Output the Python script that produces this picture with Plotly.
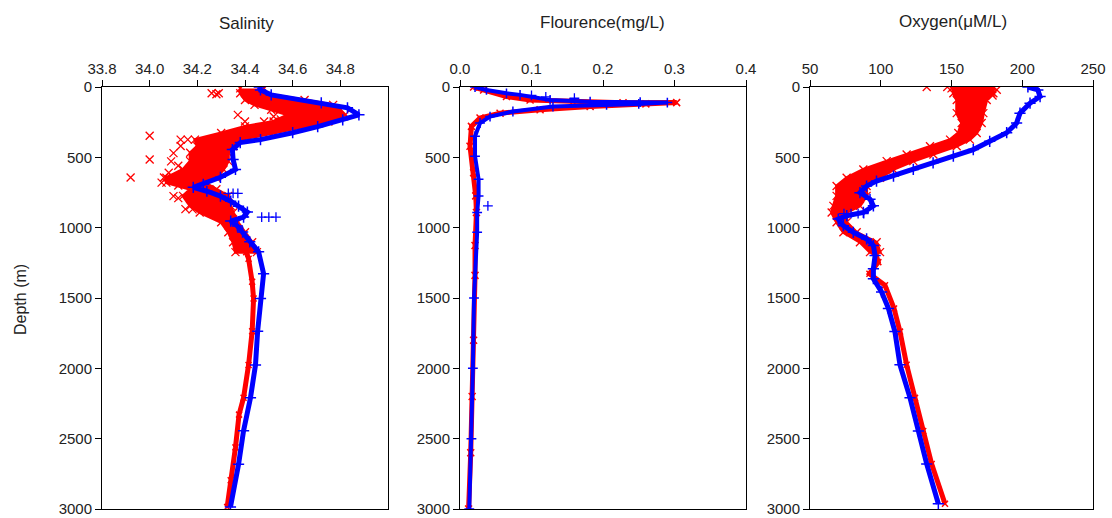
import plotly.graph_objects as go

# ---------------- DATA ----------------
# Salinity panel
sal_blue_depth = [0, 21, 56, 113, 148, 198, 233, 282, 325, 374, 395, 445, 515, 586, 642, 692, 713, 741,
                  776, 812, 847, 889, 925, 953, 988, 1031, 1101, 1172, 1327, 1504, 1737, 1976, 2209,
                  2443, 2682, 2986]
sal_blue_value = [34.46, 34.465, 34.51, 34.72, 34.83, 34.878, 34.81, 34.705, 34.60, 34.465, 34.38, 34.347,
                  34.35, 34.36, 34.297, 34.225, 34.183, 34.24, 34.297, 34.34, 34.373, 34.41, 34.394,
                  34.34, 34.368, 34.39, 34.42, 34.457, 34.478, 34.465, 34.453, 34.444, 34.423, 34.394,
                  34.373, 34.339]
sal_blue_out_depth = [756, 756, 756, 925, 925, 925]
sal_blue_out_value = [34.33, 34.35, 34.37, 34.47, 34.50, 34.53]

sal_red_band_depth = [10, 45, 92, 127, 162, 198, 245, 280, 327, 374, 421, 468, 527, 586, 645, 680, 727,
                      774, 845, 892, 962, 1033, 1104, 1174]
sal_red_band_left = [34.38, 34.38, 34.40, 34.44, 34.51, 34.58, 34.52, 34.40, 34.30, 34.19, 34.20, 34.17,
                     34.17, 34.14, 34.07, 34.07, 34.17, 34.14, 34.17, 34.21, 34.30, 34.33, 34.35, 34.36]
sal_red_band_right = [34.48, 34.47, 34.65, 34.77, 34.80, 34.82, 34.75, 34.66, 34.52, 34.38, 34.35, 34.33,
                      34.33, 34.31, 34.28, 34.23, 34.28, 34.33, 34.34, 34.35, 34.37, 34.40, 34.43, 34.45]
sal_red_deep_depth = [1174, 1221, 1384, 1504, 1737, 1976, 2209, 2329, 2562, 2796, 2986]
sal_red_deep_value = [34.405, 34.415, 34.43, 34.436, 34.43, 34.415, 34.394, 34.375, 34.36, 34.34, 34.325]
sal_red_out_depth = [45, 45, 52, 198, 245, 245, 346, 374, 374, 515, 529, 560, 610, 643, 643, 680, 700,
                     776, 790, 868, 870, 110, 150, 210, 230, 420, 470]
sal_red_out_value = [34.26, 34.29, 34.28, 34.37, 34.40, 34.48, 34.00, 34.13, 34.16, 34.00, 34.09, 34.12,
                     34.08, 34.06, 33.92, 34.05, 34.12, 34.10, 34.12, 34.15, 34.18, 34.60, 34.65, 34.52,
                     34.55, 34.13, 34.10]

# Flourence panel
flu_blue_depth = [0, 21, 45, 56, 92, 104, 108, 111, 120, 127, 139, 174, 210, 256, 350, 492, 656, 774, 892,
                  1033, 1500, 2000, 2500, 3000]
flu_blue_value = [0.021, 0.037, 0.065, 0.084, 0.126, 0.182, 0.252, 0.29, 0.25, 0.205, 0.13, 0.074, 0.042,
                  0.028, 0.021, 0.021, 0.026, 0.026, 0.024, 0.024, 0.0196, 0.018, 0.016, 0.013]
flu_blue_out_depth = [845, 60, 70, 80]
flu_blue_out_value = [0.039, 0.10, 0.12, 0.16]

flu_red_depth = [0, 21, 68, 92, 105, 112, 111, 120, 139, 162, 186, 221, 280, 421, 610, 774, 892, 1127,
                 1339, 1800, 2200, 2600, 3000]
flu_red_value = [0.019, 0.033, 0.065, 0.098, 0.158, 0.228, 0.303, 0.26, 0.182, 0.112, 0.056, 0.028, 0.016,
                 0.014, 0.019, 0.022, 0.023, 0.021, 0.021, 0.019, 0.017, 0.015, 0.012]

# Oxygen panel
oxy_blue_depth = [0, 21, 68, 115, 186, 256, 325, 386, 445, 492, 539, 586, 633, 669, 704, 751, 798, 845,
                  892, 915, 939, 986, 1033, 1080, 1127, 1198, 1292, 1363, 1457, 1574, 1739, 1975, 2210,
                  2445, 2680, 2963]
oxy_blue_value = [204, 211, 212.6, 205.5, 198.4, 196, 189, 177, 165.4, 151.3, 137, 123, 109, 97, 90, 85.3,
                  92.4, 94.8, 87.7, 76, 70, 73.6, 80.6, 90, 94.8, 96, 94.8, 94.8, 100.6, 105.4, 110,
                  113.6, 120.7, 126.6, 132.5, 140.7]
oxy_blue_out_depth = [900, 900, 900, 900]
oxy_blue_out_value = [74, 79, 84, 88]

oxy_red_band_depth = [0, 45, 92, 186, 256, 327, 374, 421, 480, 527, 586, 645, 704, 774, 845, 892, 962,
                      1033, 1104, 1174]
oxy_red_band_left = [151.3, 151.3, 153.7, 153.7, 157.2, 154.8, 149, 134.8, 118.3, 104.2, 87.7, 75.9, 68.8,
                     68.8, 66.5, 65.3, 68.8, 73.6, 85.3, 92.4]
oxy_red_band_right = [179.6, 179.6, 174.9, 172.5, 171.3, 167.8, 163, 153.7, 137.2, 123, 108.9, 99.5, 90,
                      90, 85.3, 75.9, 75.9, 83, 97.1, 99.5]
oxy_red_deep_depth = [1174, 1245, 1327, 1410, 1574, 1739, 1975, 2210, 2445, 2680, 2963]
oxy_red_deep_value = [96, 98.3, 92, 103, 109.4, 113.6, 118.3, 124.2, 130, 136, 145.4]
oxy_red_out_depth = [0, 0, 10, 40, 60, 5, 20]
oxy_red_out_value = [132.5, 147, 150, 178, 179, 172, 182]

# Axis ticks and titles
depth_ticks = [0, 500, 1000, 1500, 2000, 2500, 3000]
sal_ticks = [33.8, 34.0, 34.2, 34.4, 34.6, 34.8]
sal_ticktext = ["33.8", "34.0", "34.2", "34.4", "34.6", "34.8"]
flu_ticks = [0.0, 0.1, 0.2, 0.3, 0.4]
flu_ticktext = ["0.0", "0.1", "0.2", "0.3", "0.4"]
oxy_ticks = [50, 100, 150, 200, 250]
oxy_ticktext = ["50", "100", "150", "200", "250"]
panel_titles = ["Salinity", "Flourence(mg/L)", "Oxygen(\u03bcM/L)"]
y_title = "Depth (m)"

# ---------------- FIGURE ----------------
RED = "#ff0000"
BLUE = "#0000ff"
FONT = "Liberation Sans, Arial, sans-serif"
TXT = "#222222"

fig = go.Figure()


def add_line(xa, ya, xs, ys, color, symbol, width, msize):
    fig.add_trace(go.Scatter(
        x=xs, y=ys, mode="lines+markers", xaxis=xa, yaxis=ya,
        line=dict(color=color, width=width),
        marker=dict(symbol=symbol, size=msize, color=color, line=dict(color=color, width=1.5)),
        showlegend=False, hoverinfo="skip"))


def add_points(xa, ya, xs, ys, color, symbol, msize):
    fig.add_trace(go.Scatter(
        x=xs, y=ys, mode="markers", xaxis=xa, yaxis=ya,
        marker=dict(symbol=symbol, size=msize, color=color, line=dict(color=color, width=1.3)),
        showlegend=False, hoverinfo="skip"))


def add_band(xa, ya, depth, left, right, color):
    fig.add_trace(go.Scatter(
        x=list(left) + list(right)[::-1], y=list(depth) + list(depth)[::-1],
        mode="lines", fill="toself", fillcolor=color, line=dict(color=color, width=3),
        xaxis=xa, yaxis=ya, showlegend=False, hoverinfo="skip"))
    add_points(xa, ya, left, depth, color, "x-thin-open", 8)
    add_points(xa, ya, right, depth, color, "x-thin-open", 8)


# Salinity
add_band("x", "y", sal_red_band_depth, sal_red_band_left, sal_red_band_right, RED)
add_line("x", "y", sal_red_deep_value, sal_red_deep_depth, RED, "x-thin-open", 5, 6)
add_points("x", "y", sal_red_out_value, sal_red_out_depth, RED, "x-thin-open", 8)
add_line("x", "y", sal_blue_value, sal_blue_depth, BLUE, "cross-thin-open", 5, 8)
add_points("x", "y", sal_blue_out_value, sal_blue_out_depth, BLUE, "cross-thin-open", 7)

# Flourence
add_line("x2", "y2", flu_red_value, flu_red_depth, RED, "x-thin-open", 5, 7)
add_line("x2", "y2", flu_blue_value, flu_blue_depth, BLUE, "cross-thin-open", 4, 7)
add_points("x2", "y2", flu_blue_out_value, flu_blue_out_depth, BLUE, "cross-thin-open", 7)

# Oxygen
add_band("x3", "y3", oxy_red_band_depth, oxy_red_band_left, oxy_red_band_right, RED)
add_line("x3", "y3", oxy_red_deep_value, oxy_red_deep_depth, RED, "x-thin-open", 5, 6)
add_points("x3", "y3", oxy_red_out_value, oxy_red_out_depth, RED, "x-thin-open", 8)
add_line("x3", "y3", oxy_blue_value, oxy_blue_depth, BLUE, "cross-thin-open", 5, 8)
add_points("x3", "y3", oxy_blue_out_value, oxy_blue_out_depth, BLUE, "cross-thin-open", 7)

W, H = 1112, 518
y_dom = [1 - 509 / H, 1 - 87 / H]
x_doms = [[102 / W, 388 / W], [460 / W, 746 / W], [810 / W, 1093 / W]]

tickfont = dict(family=FONT, size=15, color=TXT)


def xax(dom, rng, tv, tt, anchor):
    return dict(domain=dom, range=rng, tickvals=tv, ticktext=tt, side="top", anchor=anchor,
                showline=True, linecolor="black", linewidth=1, mirror=True,
                ticks="outside", ticklen=6, tickcolor="black", tickwidth=1,
                showgrid=False, zeroline=False, tickfont=tickfont, fixedrange=True,
                automargin=False, ticklabeloverflow="allow")


def yax(anchor):
    return dict(domain=y_dom, range=[3000, 0], tickvals=depth_ticks, anchor=anchor,
                showline=True, linecolor="black", linewidth=1, mirror=True,
                ticks="outside", ticklen=6, tickcolor="black", tickwidth=1,
                showgrid=False, zeroline=False, tickfont=tickfont, fixedrange=True,
                automargin=False, ticklabeloverflow="allow")


fig.update_layout(
    width=W, height=H, margin=dict(l=0, r=0, t=0, b=0, pad=0), autosize=False,
    paper_bgcolor="white", plot_bgcolor="white",
    xaxis=xax(x_doms[0], [33.8, 35.0], sal_ticks, sal_ticktext, "y"),
    xaxis2=xax(x_doms[1], [0, 0.4], flu_ticks, flu_ticktext, "y2"),
    xaxis3=xax(x_doms[2], [50, 250], oxy_ticks, oxy_ticktext, "y3"),
    yaxis=yax("x"), yaxis2=yax("x2"), yaxis3=yax("x3"),
)

title_x = [246, 602, 953]
title_y = [23, 22, 21]
for t, tx, ty in zip(panel_titles, title_x, title_y):
    fig.add_annotation(text=t, x=tx / W, y=1 - ty / H, xref="paper", yref="paper",
                       xanchor="center", yanchor="middle", showarrow=False,
                       font=dict(family=FONT, size=17, color=TXT))

fig.add_annotation(text=y_title, x=20 / W, y=1 - 300 / H, xref="paper", yref="paper",
                   xanchor="center", yanchor="middle", showarrow=False, textangle=-90,
                   font=dict(family=FONT, size=16, color=TXT))

fig.write_html(
    "out.html",
    config={"displayModeBar": False, "responsive": False},
    post_script="document.body.style.margin='0';document.body.style.padding='0';"
                "document.documentElement.style.overflow='hidden';",
)
